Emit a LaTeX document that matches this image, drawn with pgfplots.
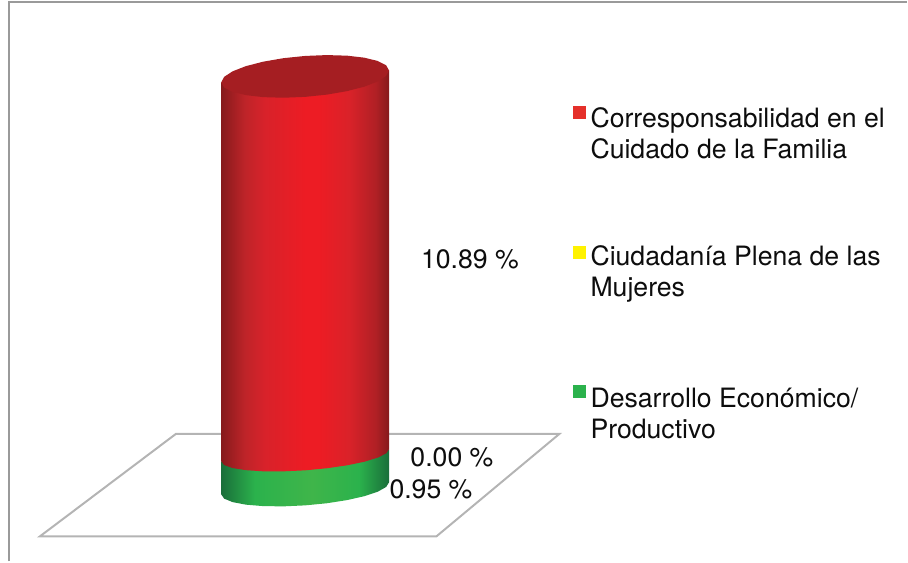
\documentclass[border=0pt]{standalone}
\usepackage{pgfplots}
\pgfplotsset{compat=1.18}
\usepackage{fontspec}
\setmainfont{TeX Gyre Heros}

\definecolor{framegray}{HTML}{9A9A9A}
\definecolor{floorgray}{HTML}{B4B4B4}
\definecolor{capred}{HTML}{A51E22}
\definecolor{keyred}{HTML}{E5302A}
\definecolor{keyyellow}{HTML}{FFF200}
\definecolor{keygreen}{HTML}{2BB24C}
\definecolor{rededge}{HTML}{861A1C}
\definecolor{redmid}{HTML}{BE2429}
\definecolor{redmidb}{HTML}{D8222A}
\definecolor{redtop}{HTML}{ED1C24}
\definecolor{redside}{HTML}{DA2229}
\definecolor{redsideb}{HTML}{B02025}
\definecolor{greenedge}{HTML}{1A6E3A}
\definecolor{greentop}{HTML}{3FB54A}

\pgfdeclarehorizontalshading{cylred}{100bp}{
  color(0bp)=(rededge);
  color(25bp)=(rededge);
  color(32bp)=(redmid);
  color(38bp)=(redmidb);
  color(50bp)=(redtop);
  color(54bp)=(redtop);
  color(63bp)=(redside);
  color(71bp)=(redsideb);
  color(75bp)=(rededge);
  color(100bp)=(rededge)}
\pgfdeclarehorizontalshading{cylgreen}{100bp}{
  color(0bp)=(greenedge);
  color(25bp)=(greenedge);
  color(35bp)=(keygreen);
  color(52bp)=(greentop);
  color(66bp)=(keygreen);
  color(75bp)=(greenedge);
  color(100bp)=(greenedge)}

\tikzset{
  lab/.style={font=\fontsize{20}{23.25}\selectfont, text=black!95},
  leg/.style={font=\fontsize{20}{23.25}\selectfont, text=black!95, anchor=west, align=left, inner sep=0pt},
}

\begin{document}
\begin{tikzpicture}
\begin{axis}[
  hide axis,
  scale only axis,
  width=681pt,
  height=421.5pt,
  xmin=0, xmax=908,
  ymin=-2.095, ymax=14.036,
  clip=false,
]
% keeps the whole axis area in the page
\addplot[draw=none] coordinates {(0,-2.095) (908,14.036)};
% frame, open on the right
\addplot[framegray, line width=1.7pt] coordinates {(9,-2.095) (9,13.98) (908,13.98)};
% floor
\addplot[floorgray, line width=1.5pt] coordinates {(40,-1.378) (437,-1.378) (560,1.564) (176,1.564)} --cycle;

% cylinder: green 0 to 0.95, yellow 0.00, red up to 0.95+10.89=11.84
\addplot[draw=none, shade, shading=cylgreen] coordinates {
  (221.5,-0.172) (224.4,-0.293) (232.8,-0.393) (246.1,-0.467) (263.5,-0.509) (283.8,-0.516)
  (305.5,-0.488) (327.2,-0.427) (347.5,-0.336) (364.9,-0.223) (378.2,-0.095) (386.6,0.040)
  (389.5,0.172) (389.5,1.122) (221.5,0.778)} --cycle;
\addplot[draw=none, shade, shading=cylred] coordinates {
  (221.5,0.778) (224.4,0.672) (232.8,0.585) (246.1,0.524) (263.5,0.491) (283.8,0.490)
  (305.5,0.519) (327.2,0.579) (347.5,0.663) (364.9,0.767) (378.2,0.884) (386.6,1.005)
  (389.5,1.122) (389.5,12.012) (221.5,11.668)} --cycle;
\addplot[draw=none, fill=capred] coordinates {
  (221.5,11.668) (224.4,11.521) (232.8,11.397) (246.1,11.302) (263.5,11.244) (283.8,11.227)
  (305.5,11.252) (327.2,11.316) (347.5,11.417) (364.9,11.546) (378.2,11.695) (386.6,11.854)
  (389.5,12.012) (386.6,12.159) (378.2,12.283) (364.9,12.378) (347.5,12.436) (327.2,12.453)
  (305.5,12.428) (283.8,12.364) (263.5,12.263) (246.1,12.134) (232.8,11.985) (224.4,11.826)} --cycle;

% legend keys
\addplot[only marks, mark=square*, mark size=4.5pt, keyred, mark options={draw=none, fill=keyred}] coordinates {(580,10.82)};
\addplot[only marks, mark=square*, mark size=4.5pt, keyyellow, mark options={draw=none, fill=keyyellow}] coordinates {(580,6.80)};
\addplot[only marks, mark=square*, mark size=4.5pt, keygreen, mark options={draw=none, fill=keygreen}] coordinates {(580,2.784)};

\node[leg] at (axis cs:591,10.218) {Corresponsabilidad en el\\Cuidado de la Familia};
\node[leg] at (axis cs:591,6.15) {Ciudadanía Plena de las\\Mujeres};
\node[leg] at (axis cs:591,2.14) {Desarrollo Económico/\\Productivo};

\node[lab] at (axis cs:470.5,6.573) {10.89 \%};
\node[lab] at (axis cs:452.5,0.89) {0.00 \%};
\node[lab] at (axis cs:431.5,-0.03) {0.95 \%};
\end{axis}
\end{tikzpicture}
\end{document}
